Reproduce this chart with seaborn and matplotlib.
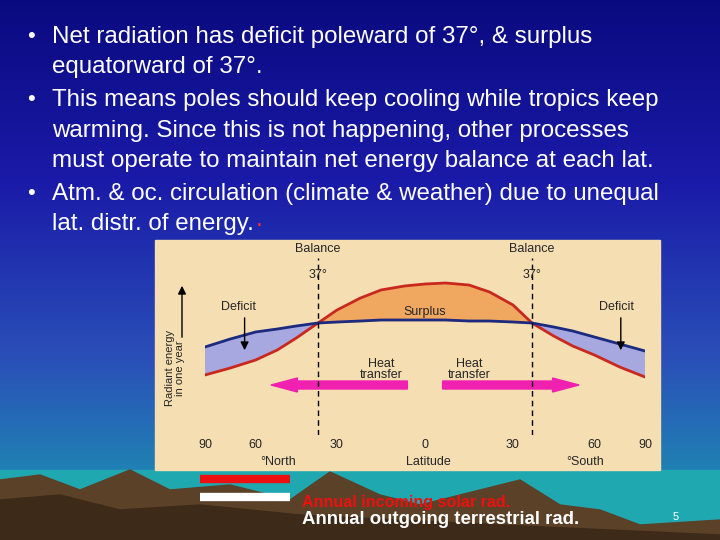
import numpy as np
import pandas as pd
import matplotlib
matplotlib.use("Agg")
import matplotlib.pyplot as plt
import seaborn as sns
from matplotlib.patches import Rectangle, Polygon, FancyArrow

sns.set_theme(style="white")
plt.rcParams['font.family'] = ['Liberation Sans', 'DejaVu Sans']

# latitude (N positive) and radiant energy (arbitrary units)
lat = [90, 75, 60, 52, 45, 37, 30, 22, 15, 7, 0, -7, -15, -22, -30, -37, -45, -52, -60, -75, -90]
incoming = [95, 102, 110, 120, 132, 147, 160, 172, 180, 184, 186, 187, 185, 178, 165, 147,
            134, 124, 115, 103, 93]
outgoing = [123, 131, 138, 141, 144, 147, 148, 149, 150, 150, 150, 150, 149, 149, 148, 147,
            143, 139, 133, 126, 119]

tick_lats = [90, 60, 30, 0, -30, -60, -90]
tick_labels = ["90", "60", "30", "0", "30", "60", "90"]
# the latitude axis in the picture is stretched near the equator
tick_pos = [-1.0, -0.77, -0.40, 0.0, 0.40, 0.77, 1.0]

bullets = [
    ["Net radiation has deficit poleward of 37°, & surplus", "equatorward of 37°."],
    ["This means poles should keep cooling while tropics keep",
     "warming. Since this is not happening, other processes",
     "must operate to maintain net energy balance at each lat."],
    ["Atm. & oc. circulation (climate & weather) due to unequal",
     "lat. distr. of energy."],
]


def to_pos(v):
    return np.interp(-np.asarray(v, dtype=float), [-t for t in tick_lats], tick_pos)


df = pd.DataFrame({"pos": to_pos(lat), "incoming": incoming, "outgoing": outgoing})
pos37 = to_pos([37, -37])

fig = plt.figure(figsize=(7.2, 5.4), dpi=100)
fig.patch.set_facecolor("#0b0b8c")
W, H = 720, 540


def fx(x):
    return x / W


def fy(y):
    return 1 - y / H


# background gradient + mountains
bg = fig.add_axes([0, 0, 1, 1], zorder=-5)
bg.set_xlim(0, W)
bg.set_ylim(H, 0)
bg.axis("off")
grad = np.linspace(0, 1, 256).reshape(-1, 1)
bg.imshow(grad, extent=[0, W, H, 0], cmap=matplotlib.colors.LinearSegmentedColormap.from_list(
    "s", ["#0a0a80", "#1a1aa8", "#2a50b8", "#1aa0b0"]), aspect="auto")
bg.add_patch(Rectangle((0, 470), W, 70, color="#20a8b0"))
bg.add_patch(Polygon([(0, 480), (40, 475), (80, 490), (130, 470), (170, 490), (230, 485),
                      (290, 500), (330, 472), (380, 495), (420, 505), (460, 495), (520, 480),
                      (560, 505), (600, 510), (640, 525), (720, 520), (720, 540), (0, 540)],
                     color="#5a4128"))
bg.add_patch(Polygon([(0, 500), (60, 495), (120, 510), (200, 505), (300, 515), (400, 520),
                      (500, 525), (720, 535), (720, 540), (0, 540)], color="#3e2a18"))
bg.add_patch(Rectangle((155, 240), 505, 230, color="#f4deb2"))

# bullet text
y = 37
for lines in bullets:
    fig.text(fx(27), fy(y), "•", color="white", fontsize=16, va="center")
    for ln in lines:
        fig.text(fx(52), fy(y), ln, color="white", fontsize=17.4, va="center")
        y += 30.5
    y += 2
fig.text(fx(256), fy(220), ".", color="#ff3030", fontsize=17.4, va="center")

# chart
ax = fig.add_axes([fx(205), fy(435), fx(645 - 205), (435 - 245) / H])
ax.set_facecolor("#f4deb2")
sns.lineplot(data=df, x="pos", y="incoming", color="#c8281e", lw=2, ax=ax)
sns.lineplot(data=df, x="pos", y="outgoing", color="#1c2a80", lw=2, ax=ax)
ax.fill_between(df["pos"], df["incoming"], df["outgoing"],
                where=df["incoming"] >= df["outgoing"], color="#f0a860", interpolate=True)
ax.fill_between(df["pos"], df["incoming"], df["outgoing"],
                where=df["incoming"] <= df["outgoing"], color="#a8a8e0", interpolate=True)
ax.set_xlim(-1.0, 1.0)
ax.set_ylim(35, 225)
for p in pos37:
    ax.axvline(p, ymax=0.93, color="black", ls=(0, (4, 3)), lw=1)
ax.set_xticks(tick_pos)
ax.set_xticklabels(tick_labels, fontsize=9)
ax.tick_params(axis="x", length=6, direction="in", color="black", pad=3)
ax.set_yticks([])
ax.set_xlabel("")
ax.set_ylabel("")
for s in ax.spines.values():
    s.set_visible(False)

ax.text(pos37[0], 218, "Balance", ha="center", fontsize=9)
ax.text(pos37[1], 218, "Balance", ha="center", fontsize=9)
ax.text(pos37[0], 192, "37°", ha="center", fontsize=9)
ax.text(pos37[1], 192, "37°", ha="center", fontsize=9)
ax.text(-0.85, 160, "Deficit", ha="center", fontsize=9)
ax.text(0.87, 160, "Deficit", ha="center", fontsize=9)
ax.text(0.0, 155, "Surplus", ha="center", fontsize=9)
ax.text(-0.20, 92, "Heat\ntransfer", ha="center", fontsize=9, linespacing=0.9)
ax.text(0.20, 92, "Heat\ntransfer", ha="center", fontsize=9, linespacing=0.9)
ax.annotate("", xy=(-0.82, 117), xytext=(-0.82, 155),
            arrowprops=dict(arrowstyle="-|>", color="black", lw=1))
ax.annotate("", xy=(0.89, 117), xytext=(0.89, 155),
            arrowprops=dict(arrowstyle="-|>", color="black", lw=1))
ax.add_patch(FancyArrow(-0.08, 85, -0.62, 0, width=8, head_width=14, head_length=0.12,
                        color="#f020b0", length_includes_head=True))
ax.add_patch(FancyArrow(0.08, 85, 0.62, 0, width=8, head_width=14, head_length=0.12,
                        color="#f020b0", length_includes_head=True))

fig.text(fx(175), fy(368), "Radiant energy\nin one year", rotation=90, fontsize=8,
         ha="center", va="center", linespacing=0.9)
bg.annotate("", xy=(182, 283), xytext=(182, 340),
            arrowprops=dict(arrowstyle="-|>", color="black", lw=1))
fig.text(fx(278), fy(462), "°North", fontsize=9, ha="center", va="center")
fig.text(fx(428), fy(462), "Latitude", fontsize=9, ha="center", va="center")
fig.text(fx(585), fy(462), "°South", fontsize=9, ha="center", va="center")

# legend
bg.plot([200, 290], [479, 479], color="#ee1010", lw=6, solid_capstyle="butt")
bg.plot([200, 290], [497, 497], color="white", lw=6, solid_capstyle="butt")
fig.text(fx(302), fy(502), "Annual incoming solar rad.", color="#ee1010", fontsize=11.6,
         fontweight="bold", va="center")
fig.text(fx(302), fy(520), "Annual outgoing terrestrial rad.", color="white", fontsize=13.4,
         fontweight="bold", va="center")
fig.text(fx(673), fy(517), "5", color="white", fontsize=8, va="center")

fig.savefig("out.png", dpi=100, facecolor=fig.get_facecolor())
